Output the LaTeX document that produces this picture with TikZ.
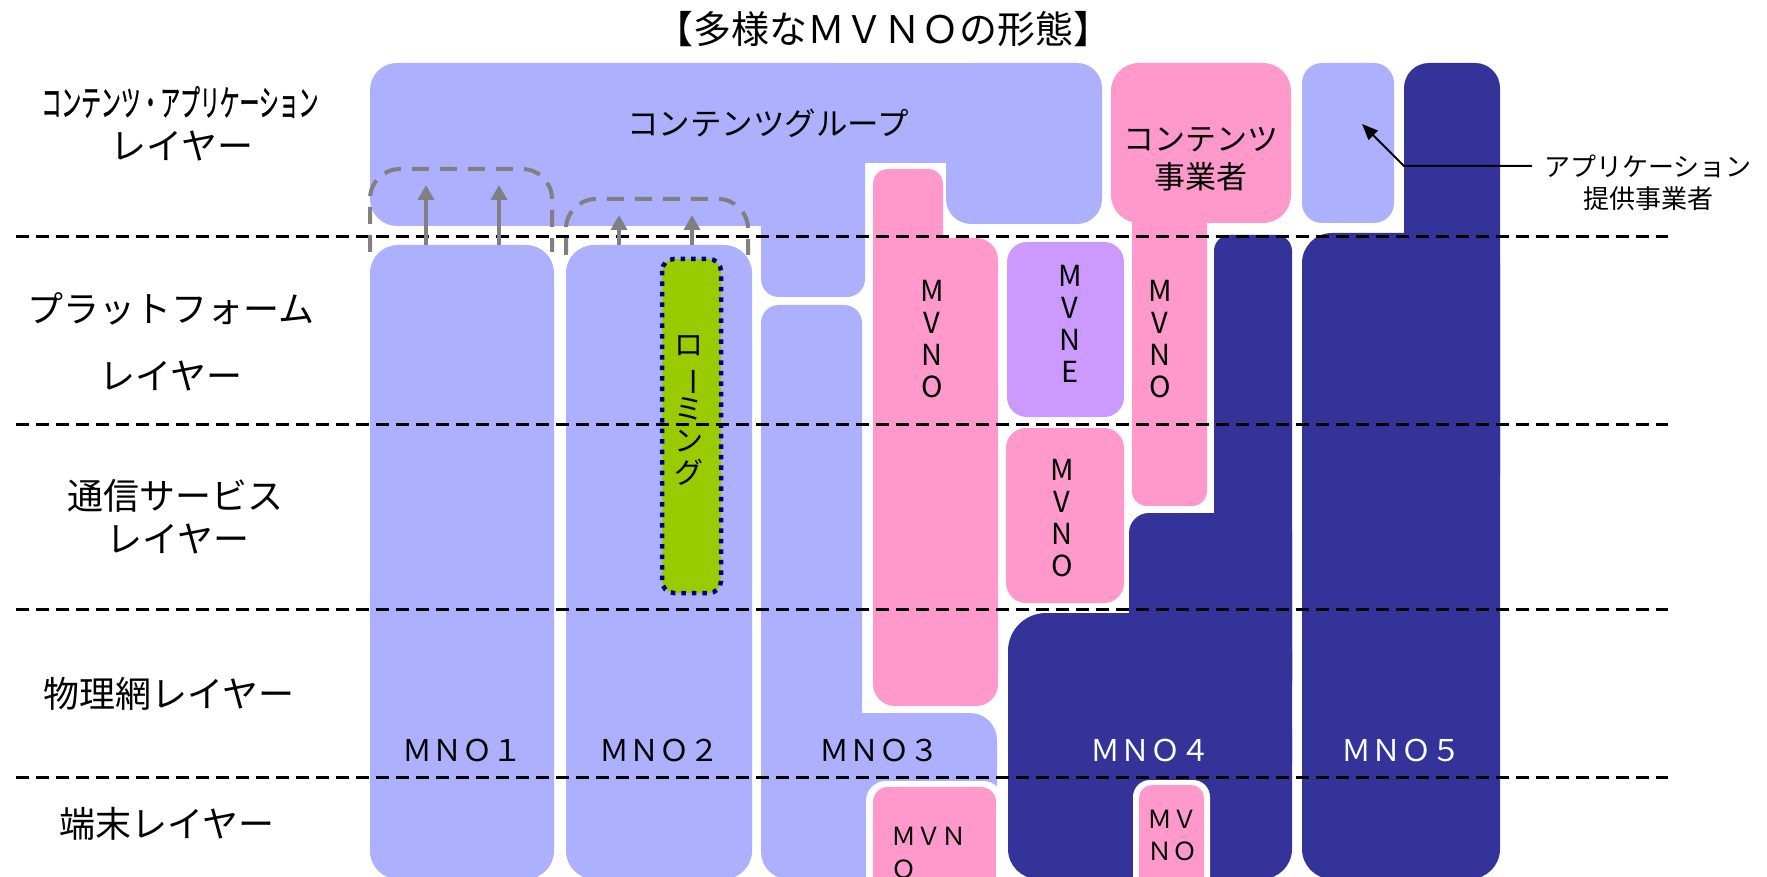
\documentclass[tikz,border=0pt]{standalone}
\usepackage{fontspec}
\setmainfont{Noto Sans CJK JP}
\newfontfamily\condfont[FakeBold=1.3]{Noto Sans CJK JP}
\usetikzlibrary{arrows.meta}
\definecolor{lavC}{RGB}{173,175,255}
\definecolor{pinkC}{RGB}{255,153,204}
\definecolor{purpC}{RGB}{204,153,255}
\definecolor{navyC}{RGB}{51,51,153}
\definecolor{greenC}{RGB}{153,204,0}
\definecolor{dotC}{RGB}{0,0,128}
\definecolor{grayC}{RGB}{128,128,128}
\begin{document}
\begin{tikzpicture}[x=1pt,y=-1pt,
  layerline/.style={black, line width=3pt, dash pattern=on 12.5pt off 7.5pt},
  grayDash/.style={grayC, line width=4pt, dash pattern=on 17pt off 11pt, rounded corners=30pt},
  grayArrow/.style={grayC, line width=4pt, -{Triangle[width=16pt,length=15pt]}},
  appArrow/.style={black, line width=2pt, -{Triangle[width=13pt,length=16pt]}},
  ttl/.style={inner sep=0pt, font=\fontsize{38}{44}\selectfont},
  lay/.style={inner sep=0pt, font=\fontsize{36}{40}\selectfont},
  boxtxt/.style={inner sep=0pt, align=center, font=\fontsize{31}{38}\selectfont},
  vert/.style={inner sep=0pt, align=center, font=\fontsize{29}{32}\selectfont},
  mno/.style={inner sep=0pt, font=\fontsize{30}{34}\selectfont},
  tiny/.style={inner sep=0pt, font=\fontsize{25}{33}\selectfont},
  applbl/.style={inner sep=12pt, font=\fontsize{26}{30}\selectfont}]
\useasboundingbox (0,0) rectangle (1767,877);
\begin{scope}
\clip (0,0) rectangle (1767,877);
% ---- content group (lavender)
\fill[lavC, rounded corners=27pt] (370,63) rectangle (865,226);
\fill[lavC, rounded corners=25pt] (946,63) rectangle (1102,224);
\fill[lavC] (820,63) rectangle (990,163);
\fill[lavC, rounded corners=18pt] (761,180) rectangle (865,297);
% ---- MNO1, MNO2
\fill[lavC, rounded corners=28pt] (370,245) rectangle (554,879);
\fill[lavC, rounded corners=28pt] (566,245) rectangle (752,879);
% ---- MNO3
\fill[lavC, rounded corners=18pt] (761,305) rectangle (862,800);
\fill[lavC, rounded corners=27pt] (761,713) rectangle (997,879);
% ---- application provider
\fill[lavC, rounded corners=20pt] (1302,63) rectangle (1394,223);
% ---- pink MVNO (MNO3)
\fill[pinkC, rounded corners=15pt] (873,169) rectangle (943,400);
\fill[pinkC, rounded corners=22pt] (873,238) rectangle (998,706);
% ---- content provider + MVNO stem
\fill[pinkC, rounded corners=28pt] (1111,63) rectangle (1291,223);
\fill[pinkC, rounded corners=15pt] (1132,150) rectangle (1207,506);
% ---- MVNE and MVNO
\fill[purpC, rounded corners=20pt] (1007,242) rectangle (1124,417);
\fill[pinkC, rounded corners=20pt] (1006,428) rectangle (1124,603);
% ---- MNO4
\fill[navyC, rounded corners=16pt] (1214,235) rectangle (1292,700);
\fill[navyC, rounded corners=20pt] (1129,513) rectangle (1292,700);
\fill[navyC, rounded corners=38pt] (1008,613) rectangle (1292,800);
\fill[navyC, rounded corners=30pt] (1008,700) rectangle (1292,879);
% ---- MNO5
\fill[navyC, rounded corners=25pt] (1404,63) rectangle (1500,500);
\fill[navyC, rounded corners=30pt] (1302,233) rectangle (1500,879);
% ---- terminal MVNOs
\fill[white, rounded corners=20pt] (866,781) rectangle (1003,900);
\fill[pinkC, rounded corners=15pt] (873,787) rectangle (996,900);
\fill[white, rounded corners=17pt] (1133,780) rectangle (1210,900);
\fill[pinkC, rounded corners=13pt] (1139,785) rectangle (1204,900);
% ---- roaming
\draw[dotC, fill=greenC, line width=4.5pt, dash pattern=on 4.5pt off 6pt, rounded corners=12pt] (662,259) rectangle (721,593);
% ---- layer separators
\foreach \yy in {237,424,609,777} \draw[layerline] (16,\yy) -- (1668,\yy);
% ---- gray dashed groups and arrows
\draw[grayDash] (370,252) -- (370,169) -- (552,169) -- (552,252);
\draw[grayDash] (566,255) -- (566,199) -- (748,199) -- (748,255);
\coordinate (a1s) at (426,245); \coordinate (a1e) at (426,185);
\coordinate (a2s) at (499,245); \coordinate (a2e) at (499,185);
\coordinate (a3s) at (619,245); \coordinate (a3e) at (619,215);
\coordinate (a4s) at (692,245); \coordinate (a4e) at (692,215);
\draw[grayArrow] (a1s) -- (a1e);
\draw[grayArrow] (a2s) -- (a2e);
\draw[grayArrow] (a3s) -- (a3e);
\draw[grayArrow] (a4s) -- (a4e);
% ---- texts
\node[ttl] (title) at (883,29) {【多様なＭＶＮＯの形態】};
\node[lay] (l1a) at (180,102) {\condfont\scalebox{0.55}[1]{コンテンツ・アプリケーション}};
\node[lay] (l1b) at (182,146) {レイヤー};
\node[lay] (l2a) at (171,309) {プラットフォーム};
\node[lay] (l2b) at (171,376) {レイヤー};
\node[lay] (l3a) at (175,496) {通信サービス};
\node[lay] (l3b) at (178,539) {レイヤー};
\node[lay] (l4) at (169,694) {物理網レイヤー};
\node[lay] (l5) at (167,824) {端末レイヤー};
\node[boxtxt, font=\fontsize{31.5}{38}\selectfont] (cg) at (768,123) {コンテンツグループ};
\node[boxtxt] (cp) at (1201,159) {コンテンツ\\事業者};
\node[vert] (mvno3) at (932,339) {M\\V\\N\\O};
\node[vert] (mvnoS) at (1160,339) {M\\V\\N\\O};
\node[vert] (mvne) at (1070,324) {M\\V\\N\\E};
\node[vert] (mvnoC) at (1062,518) {M\\V\\N\\O};
\node[vert] (roam) at (689,411) {ロ\\\rotatebox[origin=c]{-90}{ー}\\ミ\\ン\\グ};
\node[mno] (mno1) at (462,750) {ＭＮＯ１};
\node[mno] (mno2) at (659,750) {ＭＮＯ２};
\node[mno] (mno3) at (879,750) {ＭＮＯ３};
\node[mno, white] (mno4) at (1150,750) {ＭＮＯ４};
\node[mno, white] (mno5) at (1401,750) {ＭＮＯ５};
\node[tiny, align=left] (tm3) at (929,853) {ＭＶＮ\\Ｏ};
\node[tiny, align=center, font=\fontsize{25}{32}\selectfont] (tm4) at (1172,835) {ＭＶ\\ＮＯ};
\node[applbl] (appl1) at (1648,166) {アプリケーション};
\node[inner sep=0pt, font=\fontsize{26}{30}\selectfont] (appl2) at (1648,199) {提供事業者};
\coordinate (apptip) at (1362,124);
\coordinate (appbend) at (1404,166);
\draw[appArrow] (appl1.west) -- (appbend) -- (apptip);
\end{scope}
\end{tikzpicture}
\end{document}
